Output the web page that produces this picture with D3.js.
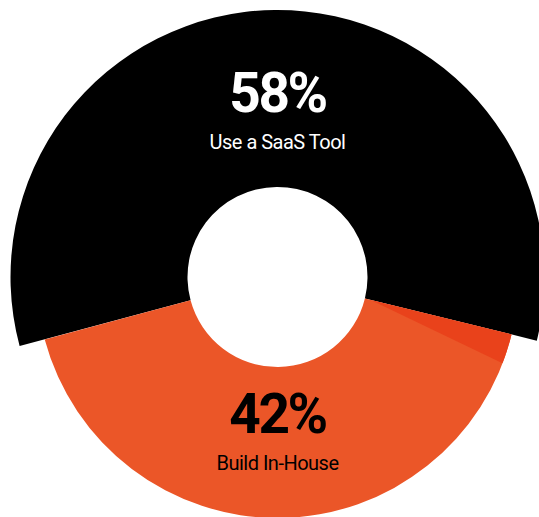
<!DOCTYPE html>
<html>
<head>
<meta charset="utf-8">
<script src="https://cdn.jsdelivr.net/npm/d3@7"></script>
<style>
    html, body { margin: 0; padding: 0; background: #ffffff; }
    svg { display: block; }
    text { font-family: Roboto, "Liberation Sans", sans-serif; }
</style>
</head>
<body>
<div id="Donut"></div>
<script>
var width = 539,
    height = 517;

// chart data
var categories = ["Use a SaaS Tool", "Build In-House"];
var shares = [58, 42];
var share_labels = ["58%", "42%"];
var slice_colors = ["#000000", "#eb5628"];
var text_colors = ["#ffffff", "#000000"];
// thin darker wedge at the start of the orange slice
var accent_share = 2;

var cx = 277.5,
    cy = 277,
    inner_r = 90,
    outer_r = [267, 241];

var svg = d3
    .select("#Donut")
    .append("svg")
    .attr("width", width)
    .attr("height", height);

var start = -105 * Math.PI / 180;

var pie = d3.pie()
    .sort(null)
    .value(function (d) { return d; })
    .startAngle(start)
    .endAngle(start + 2 * Math.PI);

var arcs = pie(shares);

var g = svg.append("g")
    .attr("transform", "translate(" + cx + "," + cy + ")");

g.selectAll("path.slice")
    .data(arcs)
    .enter()
    .append("path")
    .attr("class", "slice")
    .attr("fill", function (d, i) { return slice_colors[i]; })
    .attr("d", function (d, i) {
        return d3.arc()
            .innerRadius(inner_r)
            .outerRadius(outer_r[i])(d);
    });

// accent wedge: starts at the hole edge and opens out to the orange rim
var angle = d3.scaleLinear()
    .domain([0, d3.sum(shares)])
    .range([0, 2 * Math.PI]);

var a0 = arcs[1].startAngle,
    a1 = a0 + angle(accent_share);

function pt(r, a) {
    return [r * Math.sin(a), -r * Math.cos(a)];
}

var p = d3.path();
var apex = pt(inner_r + 6, a0);
var o0 = pt(outer_r[1], a0);
p.moveTo(apex[0], apex[1]);
p.lineTo(o0[0], o0[1]);
p.arc(0, 0, outer_r[1], a0 - Math.PI / 2, a1 - Math.PI / 2, false);
p.closePath();

g.append("path")
    .attr("d", p.toString())
    .attr("fill", "#e9421b");

// labels
var label_y = [[112, 149], [433, 470]];

var lab = svg.selectAll("g.label")
    .data(categories)
    .enter()
    .append("g")
    .attr("class", "label");

lab.append("text")
    .attr("x", cx)
    .attr("y", function (d, i) { return label_y[i][0]; })
    .attr("text-anchor", "middle")
    .attr("font-size", 55)
    .attr("font-weight", 700)
    .attr("letter-spacing", -2.5)
    .attr("fill", function (d, i) { return text_colors[i]; })
    .text(function (d, i) { return share_labels[i]; });

lab.append("text")
    .attr("x", cx)
    .attr("y", function (d, i) { return label_y[i][1]; })
    .attr("text-anchor", "middle")
    .attr("font-size", 20)
    .attr("font-weight", 400)
    .attr("letter-spacing", -0.5)
    .attr("fill", function (d, i) { return text_colors[i]; })
    .text(function (d) { return d; });
</script>
</body>
</html>
